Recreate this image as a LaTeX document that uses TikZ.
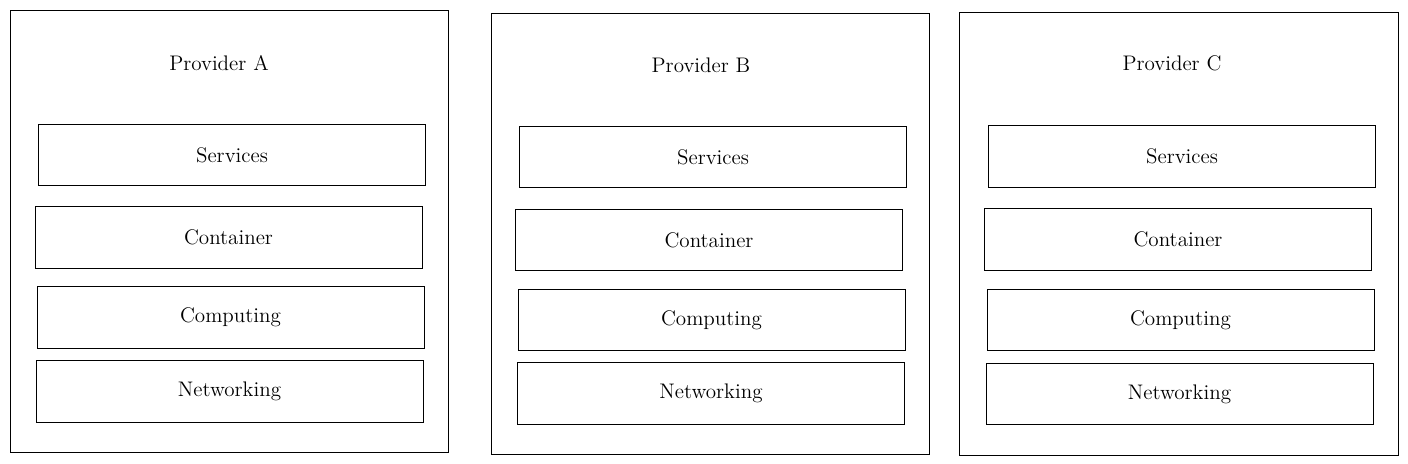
\documentclass[tikz,border=0pt]{standalone}
\usepackage{tikz}
\usetikzlibrary{positioning}
\tikzset{
provider/.style={draw, thin, inner sep=0pt, outer sep=0pt}, % the big box of one provider
layer/.style={draw, thin, inner sep=0pt, outer sep=0pt, minimum width=7.74cm, minimum height=1.23cm, font=\large}, % one layer inside a provider
title/.style={font=\large}, % the provider name
}

\begin{document}
\begin{tikzpicture}[x=0.02cm, y=-0.02cm]
    \useasboundingbox (0,0) rectangle (1408,463);

    % providers
    \node[provider, minimum width=8.76cm, minimum height=8.84cm] (pA) at (229,231) {};
    \node[provider, minimum width=8.76cm, minimum height=8.82cm] (pB) at (710,233.5) {};
    \node[provider, minimum width=8.78cm, minimum height=8.86cm] (pC) at (1178.5,233.5) {};

    \node[title] (tA) at (219,63) {Provider A};
    \node[title] (tB) at (701,65) {Provider B};
    \node[title] (tC) at (1172,63) {Provider C};

    % layers of A
    \node[layer] (sA) at (232,155) {Services};
    \node[layer] (cA) at (228.5,237.5) {Container};
    \node[layer] (mA) at (230.5,317.5) {Computing};
    \node[layer] (nA) at (229.5,391.5) {Networking};

    % layers of B
    \node[layer] (sB) at (713,157) {Services};
    \node[layer] (cB) at (709,240) {Container};
    \node[layer] (mB) at (711.5,320) {Computing};
    \node[layer] (nB) at (711,393.5) {Networking};

    % layers of C
    \node[layer] (sC) at (1182,156.5) {Services};
    \node[layer] (cC) at (1178,239.5) {Container};
    \node[layer] (mC) at (1180.5,320) {Computing};
    \node[layer] (nC) at (1179.5,394) {Networking};
\end{tikzpicture}
\end{document}
